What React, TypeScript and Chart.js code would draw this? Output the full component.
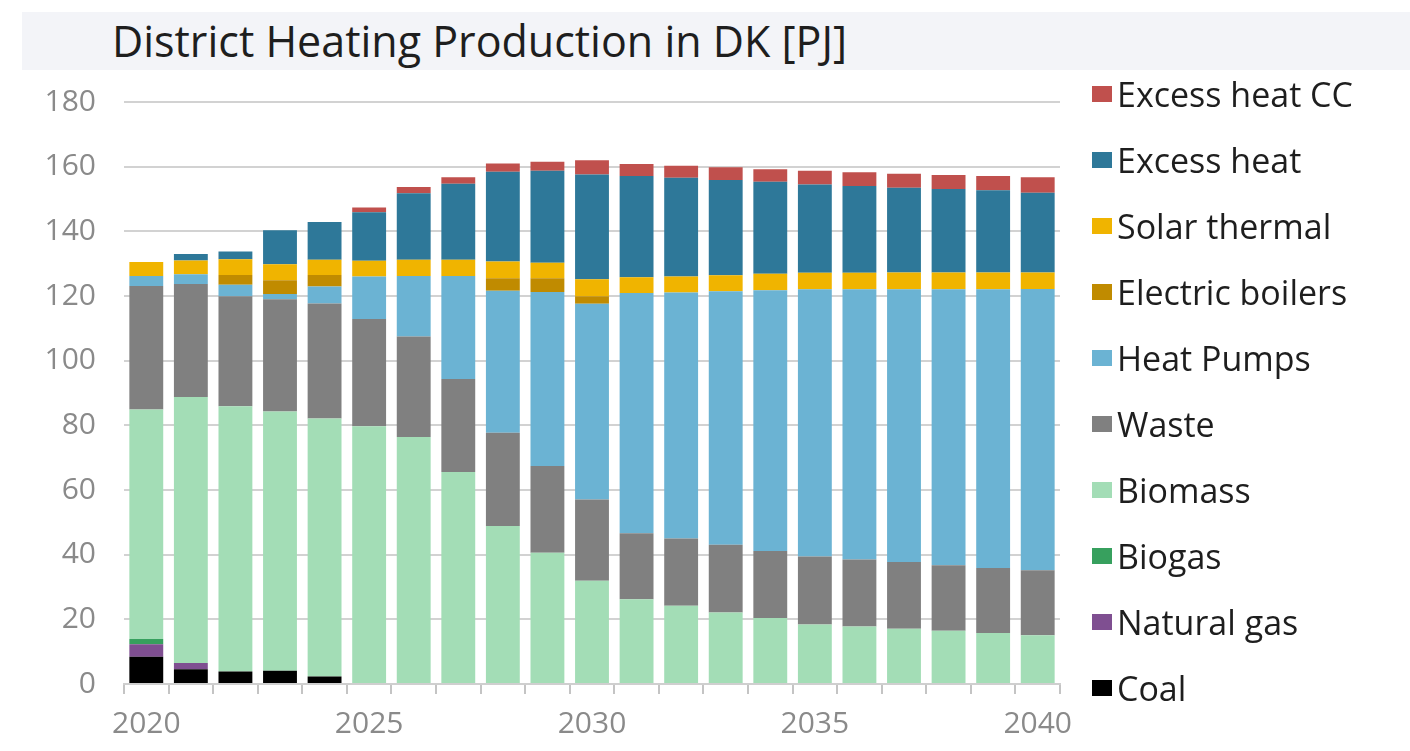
import React, { useEffect, useRef } from "react";
import { Chart, registerables } from "chart.js";

Chart.register(...registerables);

const years = [
  "2020", "2021", "2022", "2023", "2024", "2025", "2026", "2027", "2028", "2029", "2030",
  "2031", "2032", "2033", "2034", "2035", "2036", "2037", "2038", "2039", "2040",
];

const coal = [8.4, 4.6, 3.9, 4.1, 2.3, 0, 0, 0, 0, 0, 0, 0, 0, 0, 0, 0, 0, 0, 0, 0, 0];
const naturalGas = [3.9, 1.9, 0, 0, 0, 0, 0, 0, 0, 0, 0, 0, 0, 0, 0, 0, 0, 0, 0, 0, 0];
const biogas = [1.6, 0, 0, 0, 0, 0, 0, 0, 0, 0, 0, 0, 0, 0, 0, 0, 0, 0, 0, 0, 0];
const biomass = [71.0, 82.3, 82.0, 80.2, 79.8, 79.7, 76.4, 65.6, 48.9, 40.6, 31.9, 26.2, 24.2, 22.1, 20.4, 18.4, 17.8, 17.1, 16.5, 15.8, 15.1];
const waste = [38.2, 34.9, 34.0, 34.7, 35.6, 33.2, 31.1, 28.7, 28.8, 26.8, 25.2, 20.4, 20.8, 21.0, 20.7, 21.0, 20.7, 20.6, 20.2, 20.1, 20.1];
const heatPumps = [3.1, 3.0, 3.6, 1.6, 5.2, 13.1, 18.7, 31.9, 43.9, 53.8, 60.5, 74.3, 76.1, 78.4, 80.7, 82.7, 83.6, 84.4, 85.4, 86.2, 87.0];
const electricBoilers = [0, 0, 3.0, 4.3, 3.6, 0, 0, 0, 3.9, 4.3, 2.3, 0, 0, 0, 0, 0, 0, 0, 0, 0, 0];
const solarThermal = [4.3, 4.3, 4.9, 4.9, 4.7, 4.9, 5.0, 5.0, 5.2, 4.8, 5.3, 4.9, 4.9, 4.9, 5.1, 5.1, 5.1, 5.2, 5.2, 5.2, 5.1];
const excessHeat = [0, 2.0, 2.4, 10.5, 11.7, 15.0, 20.6, 23.5, 27.7, 28.4, 32.4, 31.3, 30.6, 29.5, 28.4, 27.3, 26.8, 26.2, 25.8, 25.4, 24.6];
const excessHeatCC = [0, 0, 0, 0, 0, 1.5, 1.9, 2.0, 2.6, 2.8, 4.4, 3.7, 3.7, 3.9, 3.9, 4.2, 4.3, 4.3, 4.3, 4.4, 4.8];

const yTicks = [0, 20, 40, 60, 80, 100, 120, 140, 160, 180];

const seriesNames = [
  "Coal", "Natural gas", "Biogas", "Biomass", "Waste",
  "Heat Pumps", "Electric boilers", "Solar thermal", "Excess heat", "Excess heat CC",
];
const seriesData = [coal, naturalGas, biogas, biomass, waste, heatPumps, electricBoilers, solarThermal, excessHeat, excessHeatCC];
const seriesColors = [
  "#000000", "#7f4f91", "#37a05e", "#a3ddb6", "#808080",
  "#6bb3d3", "#c08b00", "#f0b400", "#2e7899", "#c0504d",
];

const titleText = "District Heating Production in DK [PJ]";

export default function App() {
  const canvasRef = useRef<HTMLCanvasElement | null>(null);

  useEffect(() => {
    if (!canvasRef.current) return;
    const chart = new Chart(canvasRef.current, {
      type: "bar",
      data: {
        labels: years,
        datasets: seriesNames.map((name, i) => ({
          label: name,
          data: seriesData[i],
          backgroundColor: seriesColors[i],
          borderWidth: 0,
          barPercentage: 0.76,
          categoryPercentage: 1.0,
        })),
      },
      options: {
        responsive: false,
        animation: false,
        devicePixelRatio: 1,
        layout: { padding: { top: 102, right: 350, left: 0, bottom: 0 } },
        plugins: { legend: { display: false }, tooltip: { enabled: false }, title: { display: false } },
        scales: {
          x: {
            stacked: true,
            afterFit: (s: any) => { s.height = 67; },
            grid: {
              display: true,
              drawOnChartArea: false,
              drawTicks: true,
              tickLength: 10,
              color: "#c4c4c4",
              lineWidth: 2,
              offset: true,
            },
            border: { display: true, color: "#cfcfcf", width: 2 },
            ticks: {
              autoSkip: false,
              maxRotation: 0,
              minRotation: 0,
              padding: 12,
              color: "#8a8a8a",
              font: { family: "'Open Sans'", size: 30 },
              callback: (_v: any, i: number) => (i % 5 === 0 ? years[i] : ""),
            },
          },
          y: {
            stacked: true,
            min: 0,
            max: 180,
            afterFit: (s: any) => { s.width = 124; },
            afterBuildTicks: (s: any) => { s.ticks = yTicks.map((v) => ({ value: v })); },
            grid: { color: "#d2d2d2", lineWidth: 2, drawTicks: false },
            border: { display: false },
            ticks: {
              padding: 28,
              color: "#8a8a8a",
              font: { family: "'Open Sans'", size: 30 },
            },
          },
        },
      },
    });
    return () => chart.destroy();
  }, []);

  const legendItems = seriesNames.map((n, i) => ({ name: n, color: seriesColors[i] })).reverse();

  return (
    <div style={{ position: "fixed", left: 0, top: 0, width: 1410, height: 751, background: "#ffffff", overflow: "hidden" }}>
      <div style={{ position: "absolute", left: 22, top: 12, width: 1388, height: 58, background: "#f3f4f8" }} />
      <div
        style={{
          position: "absolute",
          left: 112,
          top: 12,
          height: 58,
          lineHeight: "58px",
          fontFamily: "'Open Sans', sans-serif",
          fontSize: 43,
          color: "#1e1e1e",
          whiteSpace: "nowrap",
        }}
      >
        {titleText}
      </div>
      <canvas ref={canvasRef} width={1410} height={751} style={{ position: "absolute", left: 0, top: 0 }} />
      {legendItems.map((it, i) => (
        <div
          key={it.name}
          style={{
            position: "absolute",
            left: 1092,
            top: 94 + 66 * i - 22,
            height: 44,
            display: "flex",
            alignItems: "center",
            fontFamily: "'Open Sans', sans-serif",
            fontSize: 34,
            color: "#1e1e1e",
            whiteSpace: "nowrap",
          }}
        >
          <span style={{ display: "inline-block", width: 20, height: 16, background: it.color, marginRight: 5 }} />
          <span>{it.name}</span>
        </div>
      ))}
    </div>
  );
}
